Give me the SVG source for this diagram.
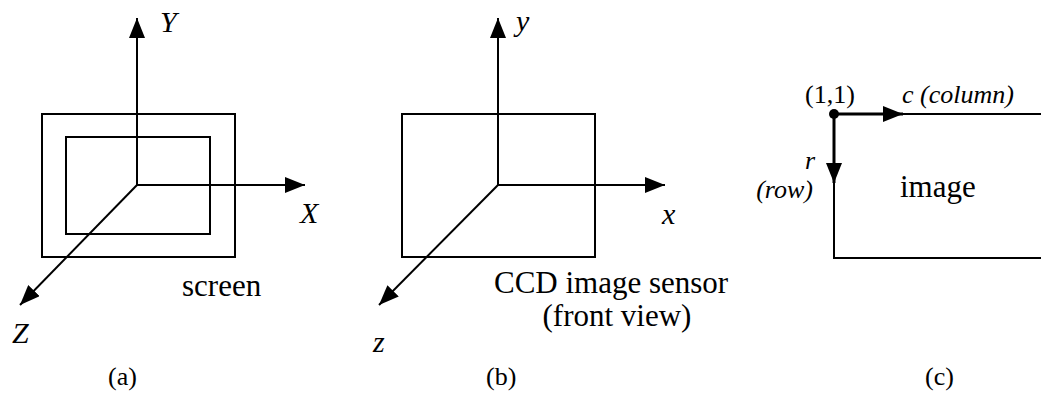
<svg xmlns="http://www.w3.org/2000/svg" width="1041" height="394" viewBox="0 0 1041 394">
<style>
.ln{fill:none;stroke:#000;stroke-width:2}
.ax{fill:none;stroke:#000;stroke-width:2;marker-end:url(#ah)}
.t{font-family:"Liberation Serif","Times New Roman",serif;fill:#000}
.big{font-size:31px}
.sm{font-size:26px}
.axl{font-size:30px;font-style:italic}
.it{font-style:italic}
</style>
<defs>
<marker id="ah" markerUnits="userSpaceOnUse" markerWidth="20" markerHeight="16" refX="20" refY="8" orient="auto">
<path d="M0,0 L20,8 L0,16 Z" fill="#000"/>
</marker>
</defs>
<rect width="1041" height="394" fill="#fff"/>
<g id="panel-a">
<g id="screen-outer"><rect class="ln" x="42" y="114" width="193" height="143"/></g>
<g id="screen-inner"><rect class="ln" x="66" y="137" width="144" height="97"/></g>
<text class="t big" x="182" y="296">screen</text>
<text class="t sm" x="108" y="385">(a)</text>
</g>
<g id="panel-b">
<g id="sensor"><rect class="ln" x="402" y="114" width="193" height="143"/></g>
<text class="t big" x="494" y="293">CCD image sensor</text>
<text class="t big" x="617" y="326" text-anchor="middle">(front view)</text>
<text class="t sm" x="486" y="385">(b)</text>
</g>
<g id="panel-c">
<g id="image-frame"><path class="ln" d="M834,114 H1041 M834,114 V258 H1041"/></g>
<circle cx="834" cy="114" r="5" fill="#000"/>
<text class="t sm" x="805" y="103">(1,1)</text>
<text class="t sm it" x="902" y="103">c (column)</text>
<text class="t sm it" x="815" y="169" text-anchor="end">r</text>
<text class="t sm it" x="813" y="198" text-anchor="end">(row)</text>
<text class="t big" x="900" y="197">image</text>
<text class="t sm" x="925" y="385">(c)</text>
</g>
<g id="connectors">
<path class="ax" d="M137,185 V18"/>
<path class="ax" d="M137,185 H305"/>
<path class="ax" d="M137,185 L20,305"/>
<path class="ax" d="M498,185 V18"/>
<path class="ax" d="M498,185 H665"/>
<path class="ax" d="M498,185 L379,305"/>
<path class="ax" style="stroke-width:3" d="M834,114 H903"/>
<path class="ax" style="stroke-width:3" d="M834,114 V183"/>
</g>
<g id="axis-labels">
<text class="t axl" x="160" y="32">Y</text>
<text class="t axl" x="300" y="223">X</text>
<text class="t axl" x="12" y="343">Z</text>
<text class="t axl" x="516" y="31">y</text>
<text class="t axl" x="662" y="224">x</text>
<text class="t axl" x="373" y="352">z</text>
</g>
</svg>
